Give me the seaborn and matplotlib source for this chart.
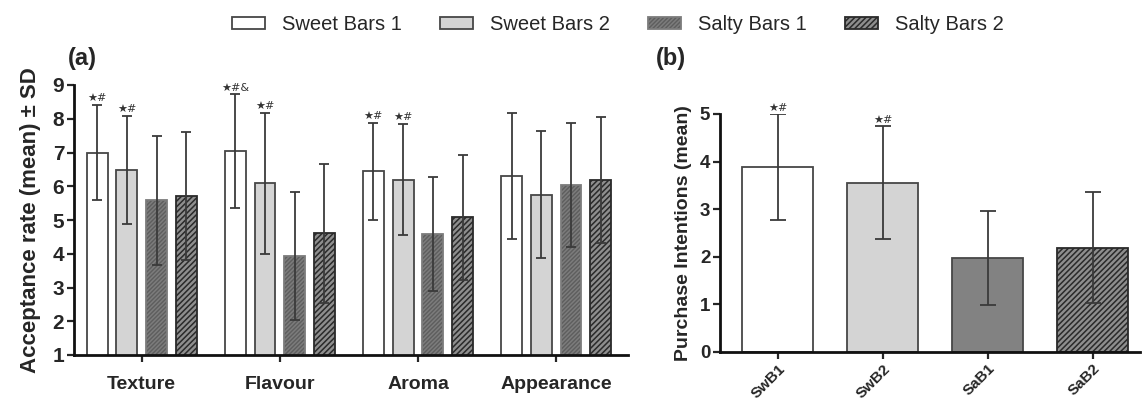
import numpy as np
import pandas as pd
import matplotlib
matplotlib.use("Agg")
import matplotlib.pyplot as plt
import seaborn as sns

# ---------------- data ----------------
attributes = ["Texture", "Flavour", "Aroma", "Appearance"]
products = ["Sweet Bars 1", "Sweet Bars 2", "Salty Bars 1", "Salty Bars 2"]
mean_sweet1 = [7.00, 7.05, 6.44, 6.31]
mean_sweet2 = [6.48, 6.09, 6.20, 5.75]
mean_salty1 = [5.58, 3.94, 4.58, 6.04]
mean_salty2 = [5.71, 4.61, 5.08, 6.18]
sd_sweet1 = [1.42, 1.68, 1.44, 1.87]
sd_sweet2 = [1.61, 2.09, 1.65, 1.88]
sd_salty1 = [1.91, 1.90, 1.69, 1.84]
sd_salty2 = [1.90, 2.06, 1.85, 1.86]
notes_a = {("Texture", "Sweet Bars 1"): "★#", ("Texture", "Sweet Bars 2"): "★#",
           ("Flavour", "Sweet Bars 1"): "★#&", ("Flavour", "Sweet Bars 2"): "★#",
           ("Aroma", "Sweet Bars 1"): "★#", ("Aroma", "Sweet Bars 2"): "★#"}

codes = ["SwB1", "SwB2", "SaB1", "SaB2"]
purchase_mean = [3.88, 3.56, 1.98, 2.19]
purchase_sd = [1.11, 1.19, 0.99, 1.17]
notes_b = {"SwB1": "★#", "SwB2": "★#"}

# ---------------- style ----------------
sns.set_theme(style="ticks")
plt.rcParams["font.family"] = ["Liberation Sans", "DejaVu Sans"]
plt.rcParams["hatch.linewidth"] = 1.1

edge = "#474747"
err_c = "#3a3a3a"
fills = ["#ffffff", "#d4d4d4", "#5e5e5e", "#8e8e8e"]
hatches = ["", "", "////////", "//////"]
hatch_cols_a = [edge, edge, "#7c7c7c", "#2a2a2a"]
hatch_cols_b = [edge, edge, edge, "#2a2a2a"]
fills_b = ["#ffffff", "#d4d4d4", "#828282", "#8e8e8e"]
hatches_b = ["", "", "", "//////"]


def style_patch(p, face, hatch, hcol):
    p.set_facecolor(face)
    p.set_hatch(hatch)
    p.set_linewidth(1.3)
    if hatch:
        try:
            p.set_hatchcolor(hcol)
            p.set_edgecolor(edge)
        except AttributeError:
            p.set_edgecolor(hcol)
    else:
        p.set_edgecolor(edge)


fig = plt.figure(figsize=(11.42, 4.04), dpi=100)
W, H = 1142, 404

# ---------------- panel (a) ----------------
ax1 = fig.add_axes([74 / W, (H - 355) / H, (628 - 74) / W, 270 / H])
means = [mean_sweet1, mean_sweet2, mean_salty1, mean_salty2]
sds = [sd_sweet1, sd_sweet2, sd_salty1, sd_salty2]
df = pd.DataFrame({
    "attribute": np.repeat([attributes], 4, axis=0).ravel(),
    "product": np.repeat(products, 4),
    "mean": np.concatenate(means),
    "sd": np.concatenate(sds),
})
sns.barplot(data=df, x="attribute", y="mean", hue="product", order=attributes,
            hue_order=products, palette=fills, width=0.86, gap=0.3,
            errorbar=None, ax=ax1, legend=False)

legend_handles = []
bar_conts = list(ax1.containers)
for i, cont in enumerate(bar_conts):
    xs = []
    for p in cont.patches:
        style_patch(p, fills[i], hatches[i], hatch_cols_a[i])
        xs.append(p.get_x() + p.get_width() / 2)
    ax1.errorbar(xs, means[i], yerr=sds[i], fmt="none", ecolor=err_c,
                 elinewidth=1.3, capsize=3.8, capthick=1.3, zorder=5)
    for j, a in enumerate(attributes):
        key = (a, products[i])
        if key in notes_a:
            ax1.annotate(notes_a[key], (xs[j], means[i][j] + sds[i][j]),
                         xytext=(0, 1), textcoords="offset points",
                         ha="center", va="bottom", fontsize=8,
                         color="#333333", family=["DejaVu Sans"])
    legend_handles.append(cont.patches[0])

ax1.set_ylim(1, 9)
ax1.set_xlim(-0.49, 3.52)
ax1.set_yticks(range(1, 10))
ax1.set_xlabel("")
ax1.set_ylabel("Acceptance rate (mean) ± SD", fontsize=16, fontweight="bold",
               labelpad=8)
ax1.tick_params(axis="y", labelsize=15, width=1.6, length=5, pad=2)
ax1.tick_params(axis="x", labelsize=14, width=1.6, length=5, pad=10)
for lab in ax1.get_xticklabels() + ax1.get_yticklabels():
    lab.set_fontweight("bold")
sns.despine(ax=ax1)
for s in ["left", "bottom"]:
    ax1.spines[s].set_linewidth(2.0)
    ax1.spines[s].set_color("#111111")

# ---------------- panel (b) ----------------
ax2 = fig.add_axes([720 / W, (H - 352) / H, (1140 - 720) / W, 238 / H])
dfb = pd.DataFrame({"code": codes, "mean": purchase_mean, "sd": purchase_sd})
sns.barplot(data=dfb, x="code", y="mean", hue="code", order=codes,
            hue_order=codes, palette=fills_b, width=0.68, errorbar=None,
            ax=ax2, legend=False)
xs_b = {}
for i, cont in enumerate(list(ax2.containers)):
    for p in cont.patches:
        if p.get_height() == 0 or np.isnan(p.get_height()):
            continue
        style_patch(p, fills_b[i], hatches_b[i], hatch_cols_b[i])
        xs_b[codes[i]] = p.get_x() + p.get_width() / 2
bx = [xs_b[c] for c in codes]
ax2.errorbar(bx, purchase_mean, yerr=purchase_sd, fmt="none", ecolor=err_c,
             elinewidth=1.3, capsize=5.5, capthick=1.3, zorder=5)
for c, x, m, s in zip(codes, bx, purchase_mean, purchase_sd):
    if c in notes_b:
        ax2.annotate(notes_b[c], (x, m + s), xytext=(0, 1),
                     textcoords="offset points", ha="center", va="bottom",
                     fontsize=8, color="#333333", family=["DejaVu Sans"])
ax2.set_ylim(0, 5)
ax2.set_xlim(-0.55, 3.45)
ax2.set_yticks(range(0, 6))
ax2.set_xlabel("")
ax2.set_ylabel("Purchase Intentions (mean)", fontsize=14, fontweight="bold",
               labelpad=6)
ax2.tick_params(axis="y", labelsize=13.5, width=1.6, length=5, pad=2)
ax2.tick_params(axis="x", labelsize=11, width=1.6, length=5, pad=2)
for lab in ax2.get_xticklabels():
    lab.set_rotation(45)
    lab.set_ha("right")
    lab.set_rotation_mode("anchor")
for lab in ax2.get_xticklabels() + ax2.get_yticklabels():
    lab.set_fontweight("bold")
sns.despine(ax=ax2)
for s in ["left", "bottom"]:
    ax2.spines[s].set_linewidth(2.0)
    ax2.spines[s].set_color("#111111")

# ---------------- legend & panel letters ----------------
fig.legend(legend_handles, products, loc="center", bbox_to_anchor=(0.541, 0.94),
           ncol=4, frameon=False, fontsize=14.5, handlelength=1.64,
           handleheight=0.55, handletextpad=0.85, columnspacing=1.9)
fig.text(68 / W, 1 - 58 / H, "(a)", fontsize=17, fontweight="bold", va="center")
fig.text(656 / W, 1 - 59 / H, "(b)", fontsize=17, fontweight="bold", va="center")

fig.savefig("out.png", dpi=100)
